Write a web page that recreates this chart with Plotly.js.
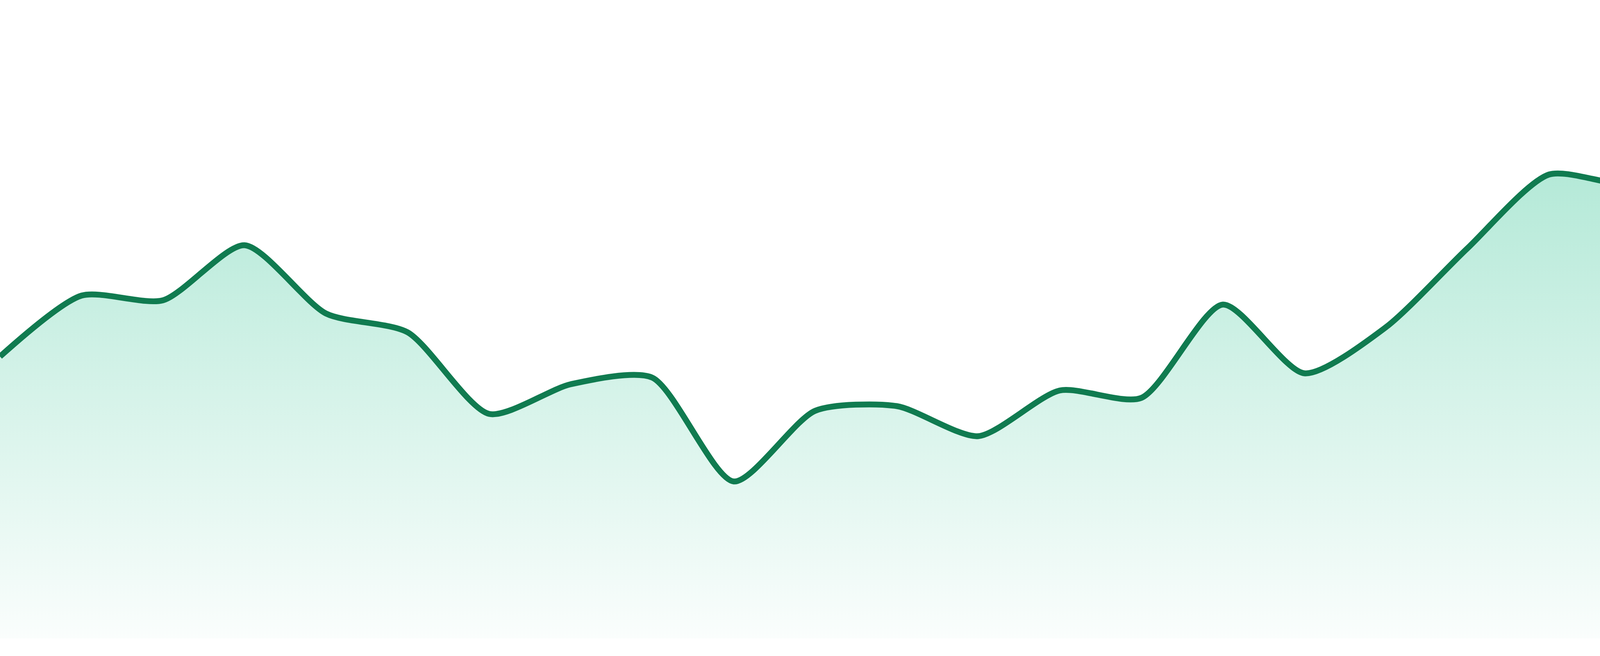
<!DOCTYPE html>
<html>
<head>
<meta charset="utf-8">
<script src="https://cdn.plot.ly/plotly-3.0.1.min.js"></script>
<style>
  html, body { margin: 0; padding: 0; background: #fff; }
  #chart { width: 4800px; height: 1680px; }
</style>
</head>
<body>
<div id="chart"></div>
<script>
  // values, one per step
  var steps = [0, 1, 2, 3, 4, 5, 6, 7, 8, 9, 10, 11, 12, 13, 14, 15, 16, 17, 18, 19, 20, 21, 22, 23];
  var values = [72.2, 87.8, 86.6, 100.7, 83.2, 78.4, 57.5, 65.1, 66.8, 40.2, 58.3, 59.5,
                51.8, 63.5, 61.6, 85.5, 67.9, 79.7, 99.9, 118.8, 116.4, 126.1, 143.4, 137.7];
  var yMax = 163.5;

  var trace = {
    x: steps,
    y: values,
    type: 'scatter',
    mode: 'lines',
    line: { color: '#107b50', width: 15, shape: 'spline', smoothing: 0.7 },
    fill: 'tozeroy',
    fillgradient: {
      type: 'vertical',
      start: 0,
      stop: yMax,
      colorscale: [[0, 'rgba(16,185,129,0.02)'], [1, 'rgba(16,185,129,0.42)']]
    },
    hoverinfo: 'skip'
  };

  var layout = {
    width: 4800,
    height: 1680,
    margin: { l: 0, r: 0, t: 0, b: 45 },
    paper_bgcolor: '#ffffff',
    plot_bgcolor: '#ffffff',
    showlegend: false,
    xaxis: { range: [0, 23], visible: false, fixedrange: true },
    yaxis: { range: [0, yMax], visible: false, fixedrange: true }
  };

  Plotly.newPlot('chart', [trace], layout, { staticPlot: true, displayModeBar: false });
</script>
</body>
</html>
